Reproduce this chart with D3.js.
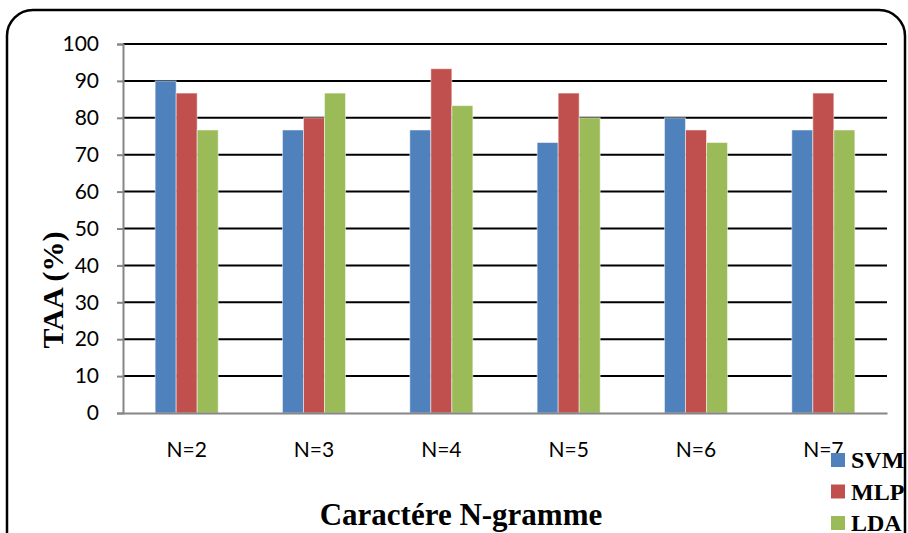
<!DOCTYPE html>
<html>
<head>
<meta charset="utf-8">
<script src="https://cdn.jsdelivr.net/npm/d3@7"></script>
<style>
  body { margin: 0; background: #fff; }
  svg { display: block; }
</style>
</head>
<body>
<svg id="chart" width="908" height="533"></svg>
<script>
// data
var categories = ["N=2", "N=3", "N=4", "N=5", "N=6", "N=7"];
var seriesNames = ["SVM", "MLP", "LDA"];
var svmValues = [90, 76.7, 76.7, 73.3, 80, 76.7];
var mlpValues = [86.7, 80, 93.3, 86.7, 76.7, 86.7];
var ldaValues = [76.7, 86.7, 83.3, 80, 73.3, 76.7];
var yTicks = [0, 10, 20, 30, 40, 50, 60, 70, 80, 90, 100];
var colors = ["#4F81BD", "#C0504D", "#9BBB59"];

var rows = categories.map(function (c, i) {
    return { cat: c, values: [svmValues[i], mlpValues[i], ldaValues[i]] };
});

var svg = d3.select("#chart"),
    margin = { top: 44, left: 123, right: 21, bottom: 120 },
    width = +svg.attr("width"),
    height = +svg.attr("height");

// outer frame with rounded corners
svg.append("rect")
    .attr("x", 7).attr("y", 10)
    .attr("width", 898).attr("height", 560)
    .attr("rx", 26).attr("ry", 26)
    .attr("fill", "none")
    .attr("stroke", "#000")
    .attr("stroke-width", 2.5);

var x0 = d3.scaleBand().domain(categories).range([margin.left, width - margin.right]);
var x1 = d3.scaleBand().domain(seriesNames).range([0, x0.bandwidth()]).paddingOuter(1.53);
var y = d3.scaleLinear().domain([0, 100]).range([height - margin.bottom, margin.top]);

// gridlines
svg.append("g")
    .selectAll("line")
    .data(yTicks.filter(function (d) { return d > 0; }))
    .enter().append("line")
    .attr("x1", margin.left).attr("x2", width - margin.right)
    .attr("y1", function (d) { return y(d); })
    .attr("y2", function (d) { return y(d); })
    .attr("stroke", "#000")
    .attr("stroke-width", 2);

// bars
var groups = svg.append("g")
    .selectAll("g")
    .data(rows)
    .enter().append("g")
    .attr("transform", function (d) { return "translate(" + x0(d.cat) + ",0)"; });

groups.selectAll("rect")
    .data(function (d) { return d.values.map(function (v, i) { return { s: seriesNames[i], v: v, i: i }; }); })
    .enter().append("rect")
    .attr("x", function (d) { return x1(d.s); })
    .attr("width", x1.bandwidth())
    .attr("y", function (d) { return y(d.v); })
    .attr("height", function (d) { return y(0) - y(d.v); })
    .attr("fill", function (d) { return colors[d.i]; })
    .attr("stroke", "rgba(255,255,255,0.5)")
    .attr("stroke-width", 1);

// y axis
var yAxis = svg.append("g")
    .attr("transform", "translate(" + margin.left + ",0)")
    .call(d3.axisLeft(y).tickValues(yTicks).tickSize(6).tickPadding(18));
yAxis.select(".domain").attr("stroke", "#868686").attr("stroke-width", 2);
yAxis.selectAll(".tick line").attr("stroke", "#868686").attr("stroke-width", 2);
yAxis.selectAll("text")
    .attr("font-family", "Lato, sans-serif")
    .attr("font-size", 21)
    .attr("fill", "#000");

// x axis
var xAxis = svg.append("g")
    .attr("transform", "translate(0," + y(0) + ")")
    .call(d3.axisBottom(x0).tickSize(0).tickPadding(29));
xAxis.select(".domain").attr("stroke", "#868686").attr("stroke-width", 2);
xAxis.selectAll("text")
    .attr("font-family", "Lato, sans-serif")
    .attr("font-size", 21)
    .attr("fill", "#000");

// axis titles
svg.append("text")
    .attr("transform", "translate(63,290) rotate(-90)")
    .attr("text-anchor", "middle")
    .attr("font-family", "'Liberation Serif', 'Times New Roman', serif")
    .attr("font-weight", "bold")
    .attr("font-size", 30)
    .text("TAA (%)");

svg.append("text")
    .attr("x", 461).attr("y", 525)
    .attr("text-anchor", "middle")
    .attr("font-family", "'Liberation Serif', 'Times New Roman', serif")
    .attr("font-weight", "bold")
    .attr("font-size", 31)
    .text("Caractére N-gramme");

// legend
var legend = svg.append("g")
    .selectAll("g")
    .data(seriesNames)
    .enter().append("g")
    .attr("transform", function (d, i) { return "translate(831," + (453 + i * 31.5) + ")"; });

legend.append("rect")
    .attr("width", 14).attr("height", 14)
    .attr("fill", function (d, i) { return colors[i]; });

legend.append("text")
    .attr("x", 20).attr("y", 15)
    .attr("font-family", "'Liberation Serif', 'Times New Roman', serif")
    .attr("font-weight", "bold")
    .attr("font-size", 24)
    .text(function (d) { return d; });
</script>
</body>
</html>
